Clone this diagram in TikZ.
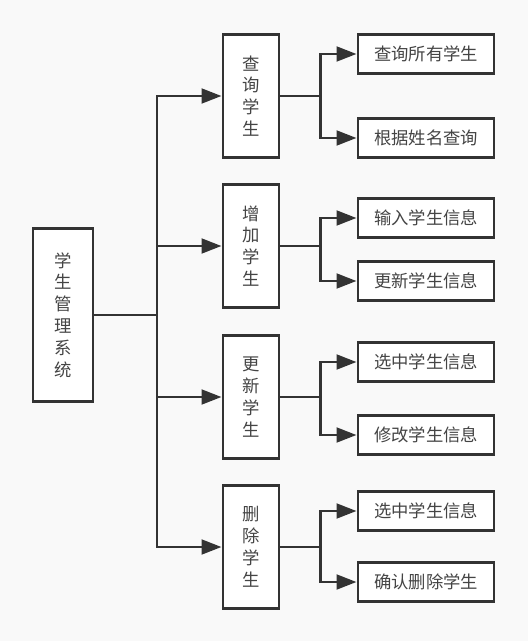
\documentclass[tikz,border=0pt]{standalone}
\usepackage{fontspec}
\setmainfont{Noto Sans CJK SC}
\usetikzlibrary{arrows.meta}
\definecolor{bgcol}{RGB}{249,249,249}
\definecolor{linecol}{RGB}{51,51,51}
\definecolor{textcol}{RGB}{68,68,68}
\tikzset{
    box/.style={draw=linecol,fill=white,line width=2.2pt,inner sep=0pt,
        align=center,text=textcol,font=\fontsize{13}{16.4}\selectfont},
    rootbox/.style={box,minimum width=45pt,minimum height=130pt},
    midbox/.style={box,minimum width=42pt,minimum height=92pt},
    leafbox/.style={box,minimum width=102pt,minimum height=29pt},
    arr/.style={draw=linecol,line width=2.2pt,-{Triangle[length=15pt,width=11pt]}},
}
\begin{document}
\begin{tikzpicture}[x=0.75pt,y=-0.75pt]
    \fill[bgcol] (0,0) rectangle (528,641);
    \useasboundingbox (0,0) rectangle (528,641);

    \node[rootbox] (root) at (63,315) {学\\生\\管\\理\\系\\统};
    \coordinate (trunk) at (157,315);

    % second level
    \node[midbox] (cx) at (251,96) {查\\询\\学\\生};
    \node[midbox] (zj) at (251,246) {增\\加\\学\\生};
    \node[midbox] (gx) at (251,397) {更\\新\\学\\生};
    \node[midbox] (sc) at (251,547) {删\\除\\学\\生};

    % third level
    \node[leafbox] (cx1) at (426,54) {查询所有学生};
    \node[leafbox] (cx2) at (426,138) {根据姓名查询};
    \node[leafbox] (zj1) at (426,218) {输入学生信息};
    \node[leafbox] (zj2) at (426,281) {更新学生信息};
    \node[leafbox] (gx1) at (426,362) {选中学生信息};
    \node[leafbox] (gx2) at (426,435) {修改学生信息};
    \node[leafbox] (sc1) at (426,511) {选中学生信息};
    \node[leafbox] (sc2) at (426,582) {确认删除学生};

    \foreach \m in {cx,zj,gx,sc}{
        \draw[arr] (root.east) -- (trunk) |- (\m.west);
        \foreach \n in {1,2}{
            \draw[arr] (\m.east) -- ++(40,0) |- (\m\n.west);
        }}
\end{tikzpicture}
\end{document}
